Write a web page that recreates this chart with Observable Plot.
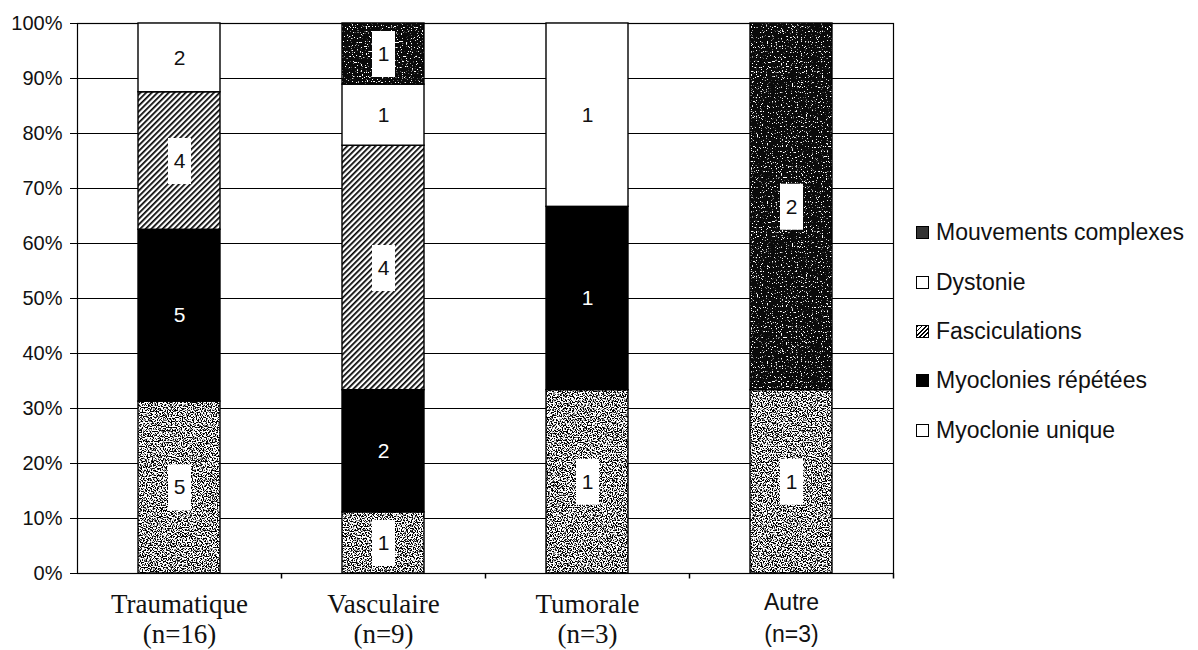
<!DOCTYPE html>
<html>
<head>
<meta charset="utf-8">
<script src="https://cdn.jsdelivr.net/npm/d3@7"></script>
<script src="https://cdn.jsdelivr.net/npm/@observablehq/plot@0.6"></script>
<style>
  html, body { margin: 0; padding: 0; background: #fff; }
  #wrap { position: relative; width: 1198px; height: 650px; overflow: hidden; }
  #legend { position: absolute; left: 916px; top: 208px; font-family: "Liberation Sans", Arial, sans-serif; font-size: 23px; color: #111; }
  .item { display: flex; align-items: center; height: 49.4px; white-space: nowrap; }
  .sw { width: 11px; height: 11px; border: 1px solid #000; margin-right: 7px; box-sizing: content-box; }
</style>
</head>
<body>
<div id="wrap"></div>
<script>
// ---- data ----
const categories = ["Traumatique", "Vasculaire", "Tumorale", "Autre"];
const sampleSizes = [16, 9, 3, 3];
const series = ["Myoclonie unique", "Myoclonies répétées", "Fasciculations", "Dystonie", "Mouvements complexes"];
const myoclonieUnique     = [5, 1, 1, 1];
const myocloniesRepetees  = [5, 2, 1, 0];
const fasciculations      = [4, 4, 0, 0];
const dystonie            = [2, 1, 1, 0];
const mouvementsComplexes = [0, 1, 0, 2];
const yTickValues = [0, 0.1, 0.2, 0.3, 0.4, 0.5, 0.6, 0.7, 0.8, 0.9, 1];
const yTickLabels = ["0%", "10%", "20%", "30%", "40%", "50%", "60%", "70%", "80%", "90%", "100%"];
const legendOrder = ["Mouvements complexes", "Dystonie", "Fasciculations", "Myoclonies répétées", "Myoclonie unique"];

const seriesValues = [myoclonieUnique, myocloniesRepetees, fasciculations, dystonie, mouvementsComplexes];
const rows = series.flatMap((s, si) =>
  categories.map((c, ci) => ({category: c, series: s, value: seriesValues[si][ci]}))
).filter(d => d.value > 0);

const fills = ["url(#pLight)", "#000", "url(#pHatch)", "#fff", "url(#pDark)"];
const boxed = new Set(["Myoclonie unique", "Fasciculations", "Mouvements complexes"]);

const boxSymbol = { draw(ctx) { ctx.rect(-11.5, -23, 23, 46); } };
const tickSymbol = { draw(ctx) { ctx.moveTo(0, 0); ctx.lineTo(0, 5); } };

const serifCats = categories.filter(c => c !== "Autre");
const sansCats = categories.filter(c => c === "Autre");
const labelOf = c => `${c}\n(n=${sampleSizes[categories.indexOf(c)]})`;

const chart = Plot.plot({
  width: 1198,
  height: 650,
  marginLeft: 77,
  marginRight: 305,
  marginTop: 23,
  marginBottom: 77,
  style: {fontFamily: "'Liberation Sans', Arial, sans-serif", fontSize: "20px", color: "#111", background: "#fff"},
  x: {domain: categories, paddingInner: 0.6, paddingOuter: 0.3, axis: null},
  y: {domain: [0, 1], axis: null, label: null},
  color: {domain: series, range: fills},
  marks: [
    Plot.gridY(yTickValues, {stroke: "#000", strokeOpacity: 1, strokeWidth: 1}),
    Plot.axisY(yTickValues, {label: null, tickSize: 7, tickPadding: 8, tickFormat: d => yTickLabels[yTickValues.indexOf(d)], stroke: "#000", strokeOpacity: 1}),
    Plot.frame({stroke: "#000", strokeWidth: 1.2}),
    Plot.dot(categories, {x: d => d, frameAnchor: "bottom", dx: 102, symbol: tickSymbol, stroke: "#000", fill: "none", r: 4}),
    Plot.barY(rows, {x: "category", y: "value", fill: "series", offset: "normalize", stroke: "#000", strokeWidth: 1.4}),
    Plot.dot(rows, Plot.stackY({x: "category", y: "value", offset: "normalize",
      symbol: boxSymbol, r: 5, stroke: "none",
      fill: d => boxed.has(d.series) ? "#fff" : "none"})),
    Plot.text(rows, Plot.stackY({x: "category", y: "value", offset: "normalize",
      text: "value", fontSize: 21,
      fill: d => d.series === "Myoclonies répétées" ? "#fff" : "#111"})),
    Plot.text(serifCats, {x: d => d, text: labelOf, frameAnchor: "bottom", lineAnchor: "top", dy: 18,
      fontFamily: "'Liberation Serif', 'Times New Roman', serif", fontSize: 27, lineHeight: 1.12, fill: "#111"}),
    Plot.text(sansCats, {x: d => d, text: labelOf, frameAnchor: "bottom", lineAnchor: "top", dy: 14,
      fontFamily: "'Liberation Sans', Arial, sans-serif", fontSize: 23, lineHeight: 1.38, fill: "#111"})
  ]
});

d3.select(chart).insert("defs", ":first-child").html(`
  <filter id="fLight" x="0" y="0" width="1" height="1" color-interpolation-filters="sRGB">
    <feTurbulence type="fractalNoise" baseFrequency="0.8" numOctaves="1" seed="7" stitchTiles="stitch" result="n"/>
    <feColorMatrix in="n" type="matrix" values="0 0 0 0 0  0 0 0 0 0  0 0 0 0 0  -12 0 0 0 6.3" result="s"/>
    <feFlood flood-color="#ffffff" result="w"/>
    <feComposite in="s" in2="w" operator="over"/>
  </filter>
  <filter id="fDark" x="0" y="0" width="1" height="1" color-interpolation-filters="sRGB">
    <feTurbulence type="fractalNoise" baseFrequency="0.8" numOctaves="1" seed="11" stitchTiles="stitch" result="n"/>
    <feColorMatrix in="n" type="matrix" values="0 0 0 0 1  0 0 0 0 1  0 0 0 0 1  14 0 0 0 -8.6" result="s"/>
    <feFlood flood-color="#0a0a0a" result="b"/>
    <feComposite in="s" in2="b" operator="over"/>
  </filter>
  <pattern id="pLight" patternUnits="userSpaceOnUse" width="160" height="160">
    <rect width="160" height="160" filter="url(#fLight)"/>
  </pattern>
  <pattern id="pDark" patternUnits="userSpaceOnUse" width="160" height="160">
    <rect width="160" height="160" filter="url(#fDark)"/>
  </pattern>
  <pattern id="pHatch" patternUnits="userSpaceOnUse" width="4" height="4" patternTransform="rotate(45)">
    <rect width="4" height="4" fill="#fff"/>
    <rect width="1.7" height="4" fill="#000"/>
  </pattern>
`);

const wrap = document.getElementById("wrap");
wrap.appendChild(chart);

const swatchStyle = {
  "Mouvements complexes": "background:#333;",
  "Dystonie": "background:#fff;",
  "Fasciculations": "background:repeating-linear-gradient(135deg,#000 0 1.2px,#fff 1.2px 3px);",
  "Myoclonies répétées": "background:#000;",
  "Myoclonie unique": "background:#fff;"
};
const legend = document.createElement("div");
legend.id = "legend";
legend.innerHTML = legendOrder.map(s =>
  `<div class="item"><span class="sw" style="${swatchStyle[s]}"></span><span>${s}</span></div>`).join("");
wrap.appendChild(legend);
</script>
</body>
</html>
